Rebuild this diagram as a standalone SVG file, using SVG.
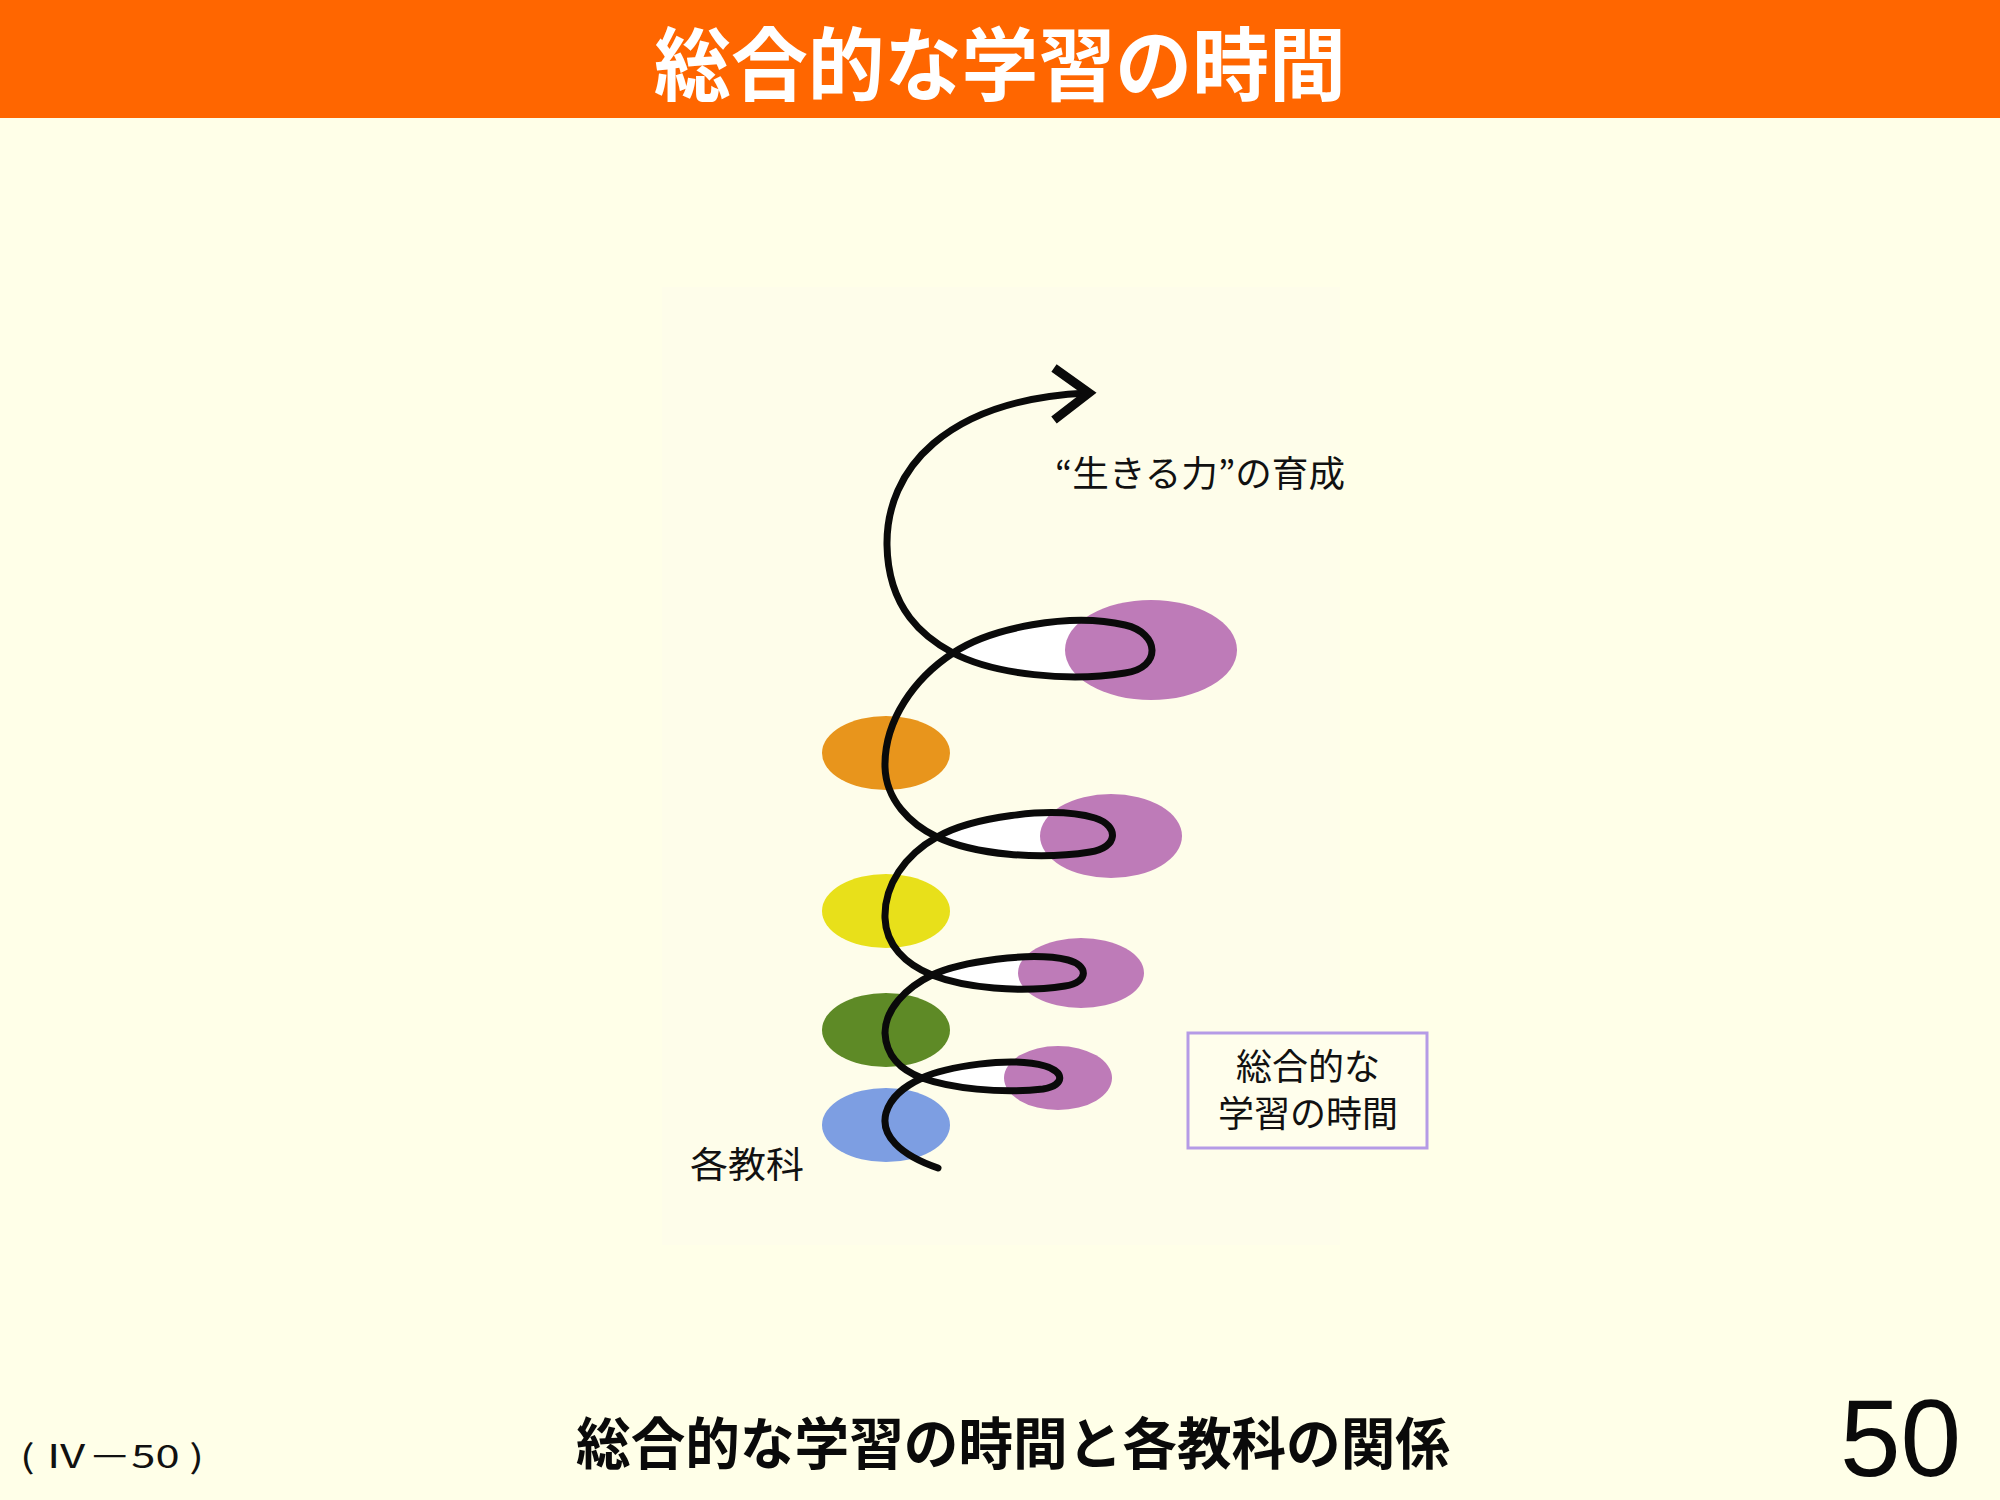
<svg xmlns="http://www.w3.org/2000/svg" width="2000" height="1500" viewBox="0 0 2000 1500">
<style>
.jp{font-family:"Noto Sans CJK JP","Noto Sans CJK SC",sans-serif;}
.lbl{font-size:36px;fill:#111;}
.sub{stroke:none;}
.tfa{fill:#BE7BB8;stroke:none;}
.loopfill{fill:#FFFFFF;stroke:none;}
.wire{fill:none;stroke:#0A0A0A;stroke-width:7;stroke-linecap:round;stroke-linejoin:round;}
</style>
<rect x="0" y="0" width="2000" height="1500" fill="#FFFFE8"/>
<rect x="0" y="0" width="2000" height="118" fill="#FF6600"/>
<text class="jp" x="654" y="94" font-size="80" font-weight="bold" fill="#FFFFFF" textLength="692" lengthAdjust="spacingAndGlyphs">総合的な学習の時間</text>
<rect x="662" y="287" width="678" height="958" fill="#FEFDEA"/>

<g id="loop-fills">
<path class="loopfill" d="M922 1078 C945 1067 1010 1056 1045 1066 C1065 1072 1065 1085 1043 1089 C1000 1094 950 1088 922 1078 Z"/>
<path class="loopfill" d="M932 975 C960 962 1030 951 1068 960 C1088 965 1090 982 1065 986 C1020 993 965 988 932 975 Z"/>
<path class="loopfill" d="M937 837 C970 818 1050 805 1095 818 C1120 826 1118 848 1090 852 C1040 860 975 855 937 837 Z"/>
<path class="loopfill" d="M953 653 C990 628 1070 612 1125 625 C1160 633 1162 668 1125 673 C1070 682 995 675 953 653 Z"/>
</g>

<g id="subjects">
<ellipse id="subject-orange" class="sub" cx="886" cy="753" rx="64" ry="37" fill="#E8951C"/>
<ellipse id="subject-yellow" class="sub" cx="886" cy="911" rx="64" ry="37" fill="#E8E01A"/>
<ellipse id="subject-green" class="sub" cx="886" cy="1030" rx="64" ry="37" fill="#5E8A26"/>
<ellipse id="subject-blue" class="sub" cx="886" cy="1125" rx="64" ry="37" fill="#7D9EE2"/>
</g>

<g id="integrated-study">
<ellipse id="tfa-1" class="tfa" cx="1058" cy="1078" rx="54" ry="32"/>
<ellipse id="tfa-2" class="tfa" cx="1081" cy="973" rx="63" ry="35"/>
<ellipse id="tfa-3" class="tfa" cx="1111" cy="836" rx="71" ry="42"/>
<ellipse id="tfa-4" class="tfa" cx="1151" cy="650" rx="86" ry="50"/>
</g>

<g id="connectors">
<path class="wire" d="M938 1168 C900 1155 880 1135 886 1113 C891 1096 905 1086 922 1078
C945 1067 1010 1056 1045 1066 C1065 1072 1065 1085 1043 1089 C1000 1094 950 1088 922 1078
C900 1070 886 1055 885 1033 C885 1010 905 988 932 975
C960 962 1030 951 1068 960 C1088 965 1090 982 1065 986 C1020 993 965 988 932 975
C905 964 886 945 885 918 C884 885 905 855 937 837
C970 818 1050 805 1095 818 C1120 826 1118 848 1090 852 C1040 860 975 855 937 837
C910 824 886 800 885 767 C884 720 915 678 953 653
C990 628 1070 612 1125 625 C1160 633 1162 668 1125 673 C1070 682 995 675 953 653
C925 638 888 610 887 545 C886 470 945 400 1087 393"/>
<polyline fill="none" stroke="#0A0A0A" stroke-width="9" stroke-linejoin="miter" stroke-linecap="butt" points="1054,368 1089,393 1054,420"/>
</g>

<g id="label-ikiru">
<text class="jp lbl" x="1055" y="487" font-size="37" textLength="290" lengthAdjust="spacingAndGlyphs">“生きる力”の育成</text>
</g>
<g id="label-kakukyouka">
<text class="jp lbl" x="690" y="1178" textLength="114" lengthAdjust="spacingAndGlyphs">各教科</text>
</g>
<g id="label-box">
<rect x="1188" y="1033" width="239" height="115" fill="#FFFEEC" stroke="#B59BE6" stroke-width="3"/>
<text class="jp lbl" x="1308" y="1080" text-anchor="middle" font-size="35">総合的な</text>
<text class="jp lbl" x="1308" y="1127" text-anchor="middle" font-size="35">学習の時間</text>
</g>

<text class="jp" x="20" y="1468" font-size="32" fill="#111" textLength="184" lengthAdjust="spacingAndGlyphs">( Ⅳ－50 )</text>
<text class="jp" x="1013" y="1464" font-size="56" font-weight="bold" fill="#0A0A0A" text-anchor="middle" textLength="874" lengthAdjust="spacingAndGlyphs">総合的な学習の時間と各教科の関係</text>
<text x="1840" y="1476" font-family="Liberation Sans, Arial, sans-serif" font-size="109" fill="#0A0A0A">50</text>
</svg>
